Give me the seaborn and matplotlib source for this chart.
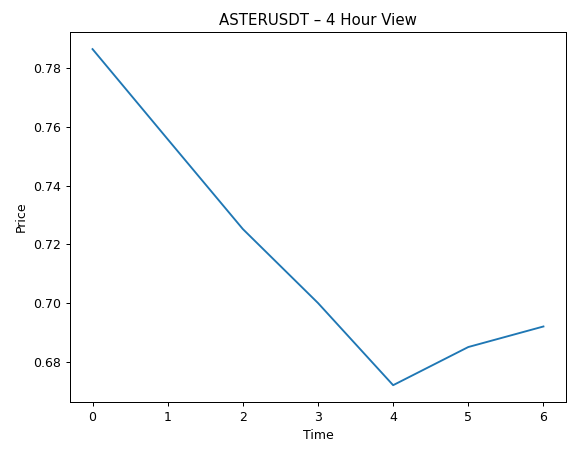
import seaborn as sns
import matplotlib.pyplot as plt
import pandas as pd

# 4 hour candles, close prices
time = [0, 1, 2, 3, 4, 5, 6]
price = [0.7865, 0.7558, 0.7252, 0.7000, 0.6720, 0.6850, 0.6920]

data = pd.DataFrame({'Time': time, 'Price': price})

fig = plt.figure(figsize=(6.4, 455 / 90), dpi=90)
ax = fig.add_subplot(111)
fig.subplots_adjust(left=0.1215, right=0.9826, bottom=0.1165, top=0.929)

sns.lineplot(data=data, x='Time', y='Price', ax=ax)
ax.set_title('ASTERUSDT – 4 Hour View')
ax.set_xlabel('Time')
ax.set_ylabel('Price')

plt.savefig('out.png', dpi=90)
